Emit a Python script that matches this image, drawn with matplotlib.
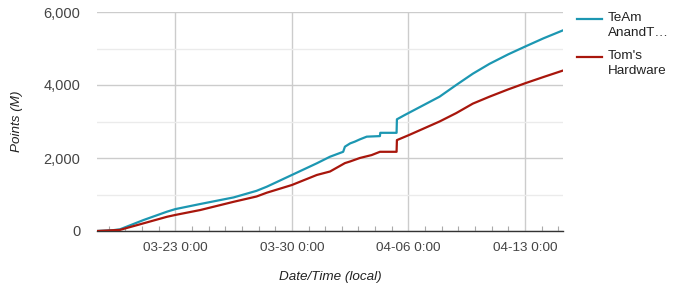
import numpy as np
import matplotlib
matplotlib.use("Agg")
import matplotlib.pyplot as plt
import matplotlib.dates as mdates
from matplotlib.lines import Line2D
from matplotlib.ticker import FuncFormatter, MultipleLocator

plt.rcParams['font.family'] = ['Liberation Sans', 'DejaVu Sans']

# data (points in millions)
team_times = ['2020-03-18T07:00', '2020-03-19T05:00', '2020-03-19T16:00', '2020-03-20T10:00',
              '2020-03-21T02:00', '2020-03-22T12:00', '2020-03-23T00:00', '2020-03-24T12:00',
              '2020-03-26T12:00', '2020-03-27T21:00', '2020-03-28T12:00', '2020-03-30T00:00',
              '2020-03-31T12:00', '2020-04-01T07:00', '2020-04-02T02:00', '2020-04-02T04:30',
              '2020-04-02T12:00', '2020-04-02T19:00', '2020-04-03T02:00', '2020-04-03T12:00',
              '2020-04-04T07:00', '2020-04-04T07:30', '2020-04-05T07:00', '2020-04-05T07:30',
              '2020-04-05T19:00', '2020-04-06T01:00', '2020-04-07T21:00', '2020-04-08T21:00',
              '2020-04-09T21:00', '2020-04-10T21:00', '2020-04-12T00:00', '2020-04-13T00:00',
              '2020-04-14T03:00', '2020-04-15T06:00']
team_points = [0, 20, 45, 180,
               300, 530, 600, 740,
               920, 1100, 1215, 1535,
               1855, 2035, 2170, 2310,
               2400, 2450, 2510, 2585,
               2600, 2690, 2690, 3060,
               3180, 3240, 3680, 4000,
               4310, 4580, 4840, 5050,
               5280, 5490]

toms_times = ['2020-03-18T07:00', '2020-03-19T16:00', '2020-03-21T02:00', '2020-03-22T12:00',
              '2020-03-23T00:00', '2020-03-24T12:00', '2020-03-26T12:00', '2020-03-27T21:00',
              '2020-03-28T12:00', '2020-03-30T00:00', '2020-03-31T12:00', '2020-04-01T07:00',
              '2020-04-02T04:30', '2020-04-02T12:00', '2020-04-03T02:00', '2020-04-03T19:00',
              '2020-04-04T07:00', '2020-04-05T07:00', '2020-04-05T07:30', '2020-04-06T01:00',
              '2020-04-07T21:00', '2020-04-08T21:00', '2020-04-09T21:00', '2020-04-10T21:00',
              '2020-04-12T00:00', '2020-04-13T00:00', '2020-04-14T03:00', '2020-04-15T06:00']
toms_points = [0, 30, 210, 390,
               440, 575, 800, 945,
               1050, 1260, 1535, 1630,
               1860, 1905, 2000, 2080,
               2170, 2170, 2490, 2630,
               3000, 3230, 3490, 3680,
               3880, 4045, 4220, 4390]

series_names = ['TeAm\nAnandT\u2026', "Tom's\nHardware"]
series_colors = ['#1c97b2', '#a8160c']

y_ticks = [0, 2000, 4000, 6000]

fig = plt.figure(figsize=(6.78, 2.88), dpi=100)
ax = fig.add_axes([97/678, 57/288, 466/678, 219/288])

ax.plot(np.array(team_times, dtype='datetime64[m]'), team_points, color=series_colors[0], lw=1.6, zorder=3)
ax.plot(np.array(toms_times, dtype='datetime64[m]'), toms_points, color=series_colors[1], lw=1.6, zorder=3)

ax.set_xlim(np.datetime64('2020-03-18T07:00'), np.datetime64('2020-04-15T07:00'))
ax.set_ylim(0, 6000)

# gridlines like google charts
ax.set_yticks(y_ticks)
ax.yaxis.set_minor_locator(MultipleLocator(1000))
ax.yaxis.set_major_formatter(FuncFormatter(lambda v, p: f'{int(v):,}'))
ax.grid(axis='y', which='major', color='#cccccc', lw=1)
ax.grid(axis='y', which='minor', color='#ebebeb', lw=1)

ax.xaxis.set_major_locator(mdates.DayLocator(bymonthday=[23, 30, 6, 13]))
ax.xaxis.set_major_formatter(mdates.DateFormatter('%m-%d 0:00'))
ax.xaxis.set_minor_locator(mdates.DayLocator())
ax.grid(axis='x', which='major', color='#cccccc', lw=1)

for s in ['top', 'right', 'left']:
    ax.spines[s].set_visible(False)
ax.spines['bottom'].set_color('#333333')
ax.spines['bottom'].set_linewidth(1)

ax.tick_params(axis='y', which='both', length=0, pad=12, labelsize=10.5, labelcolor='#444444')
ax.tick_params(axis='x', which='major', length=0, pad=8, labelsize=9.7, labelcolor='#444444')
ax.tick_params(axis='x', which='minor', direction='in', length=3.5, width=0.8, color='#aaaaaa')

ax.set_ylabel('Points (M)', fontstyle='italic', fontsize=9.7, color='#222222', labelpad=15)
ax.set_xlabel('Date/Time (local)', fontstyle='italic', fontsize=9.7, color='#222222', labelpad=12)

# legend on the right
for i, (name, col) in enumerate(zip(series_names, series_colors)):
    ly = 1 - (19 + i * 38) / 288
    fig.add_artist(Line2D([577/678, 602/678], [ly, ly], color=col, lw=1.6, transform=fig.transFigure))
    fig.text(608/678, ly + 7/288, name, fontsize=9.7, color='#222222', va='top', ha='left', linespacing=1.35)

fig.savefig('out.png', dpi=100)
